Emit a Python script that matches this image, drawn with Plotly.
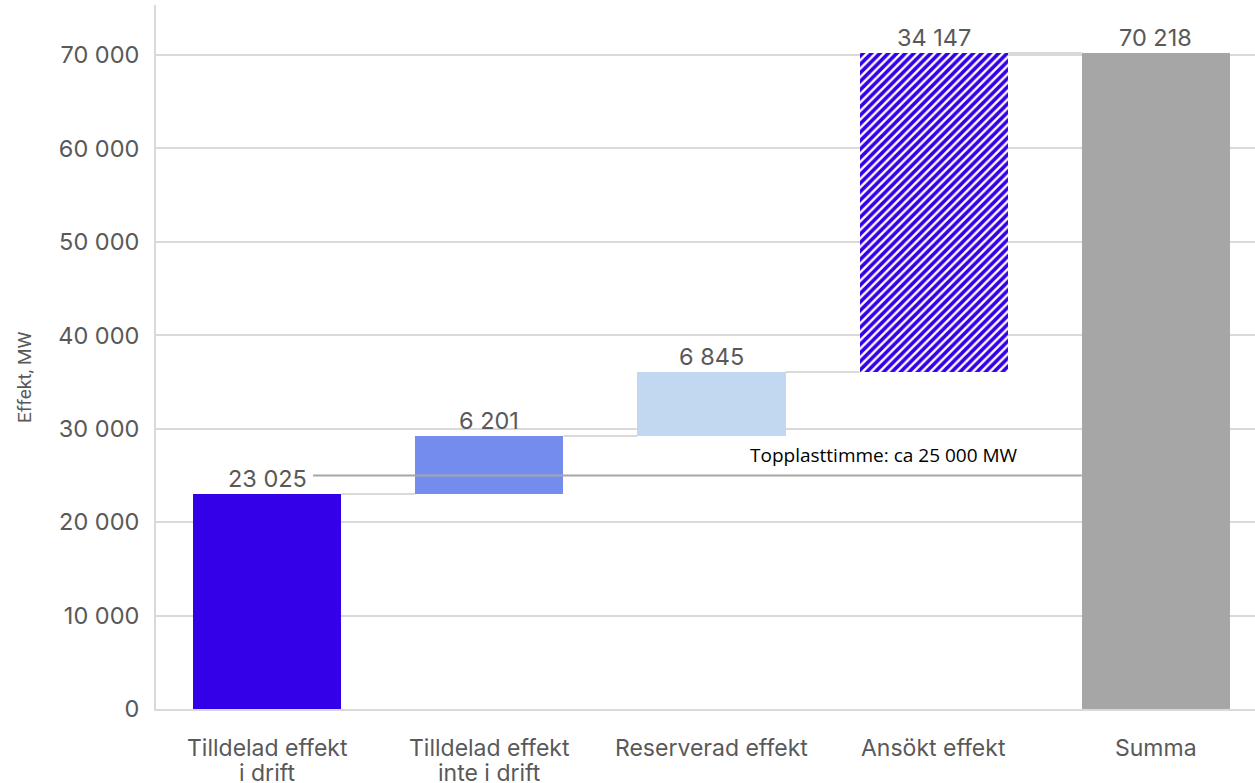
import plotly.graph_objects as go

categories = ["Tilldelad effekt<br>i drift", "Tilldelad effekt<br>inte i drift", "Reserverad effekt", "Ansökt effekt", "Summa"]
values = [23025, 6201, 6845, 34147]
total = 70218
value_labels = ["23 025", "6 201", "6 845", "34 147", "70 218"]
colors = ["#3300E8", "#738CEE", "#C2D8F0", "#3300E8", "#A6A6A6"]
peak_value = 25000
peak_label = "Topplasttimme: ca 25 000 MW"
y_title = "Effekt, MW"
y_ticks = [0, 10000, 20000, 30000, 40000, 50000, 60000, 70000]
y_ticktext = ["0", "10 000", "20 000", "30 000", "40 000", "50 000", "60 000", "70 000"]

bases = []
acc = 0
for v in values:
    bases.append(acc)
    acc += v
heights = values + [total]
bases_all = bases + [0]
tops = [b + h for b, h in zip(bases_all, heights)]
xs = list(range(len(categories)))
bw = 0.667
FONT = "Inter"
GREY = "#595959"

fig = go.Figure()
for i in xs:
    marker = dict(color=colors[i], line=dict(width=0))
    if i == 3:
        marker = dict(color="white", line=dict(width=0),
                      pattern=dict(shape="/", fgcolor=colors[i], bgcolor="white", size=6,
                                   solidity=0.6, fgopacity=1, fillmode="replace"))
    fig.add_trace(go.Bar(x=[i], y=[heights[i]], base=[bases_all[i]], width=bw,
                         marker=marker, showlegend=False, hoverinfo="skip"))

shapes = []
for i in range(len(categories) - 1):
    shapes.append(dict(type="line", xref="x", yref="y", x0=i + bw / 2, x1=i + 1 - bw / 2,
                       y0=tops[i], y1=tops[i], line=dict(color="#D9D9D9", width=2), layer="below"))
shapes.append(dict(type="line", xref="x", yref="y", x0=0.207, x1=4 - bw / 2,
                   y0=peak_value, y1=peak_value, line=dict(color="#A6A6A6", width=2), layer="above"))

annotations = []
for i in xs:
    annotations.append(dict(x=i, y=tops[i], text=value_labels[i], showarrow=False, xref="x", yref="y",
                            yanchor="bottom", yshift=-1, font=dict(family=FONT, size=23.5, color=GREY)))
    for j, line in enumerate(categories[i].split("<br>")):
        annotations.append(dict(x=i, y=0, text=line, showarrow=False, xref="x", yref="paper",
                                yanchor="middle", yshift=-39 - 25 * j,
                                font=dict(family=FONT, size=23, color=GREY)))
annotations.append(dict(x=2.164, y=peak_value, text=peak_label, showarrow=False, xref="x", yref="y",
                        xanchor="left", yanchor="bottom", yshift=5,
                        font=dict(family="Open Sans", size=19, color="#000000")))
annotations.append(dict(x=0, y=0.4716, xref="paper", yref="paper", xshift=-131, text=y_title,
                        textangle=-90, showarrow=False, xanchor="center", yanchor="middle",
                        font=dict(family="Roboto", size=19, color=GREY)))

fig.update_layout(
    width=1255, height=783,
    margin=dict(l=156, r=0, t=5, b=74),
    plot_bgcolor="white", paper_bgcolor="white",
    bargap=0,
    shapes=shapes, annotations=annotations,
    xaxis=dict(range=[-0.5, 4.446], tickvals=xs, showticklabels=False, automargin=False,
               showgrid=False, showline=True, linecolor="#D9D9D9", linewidth=2,
               ticks="", zeroline=False),
    yaxis=dict(range=[0, 75350], tickvals=y_ticks, ticktext=y_ticktext, automargin=False,
               tickfont=dict(family=FONT, size=23.5, color=GREY),
               showgrid=True, gridcolor="#D9D9D9", gridwidth=2,
               showline=True, linecolor="#D9D9D9", linewidth=2,
               ticks="outside", ticklen=10, tickcolor="rgba(0,0,0,0)", zeroline=False),
)

fig.write_html("out.html", config={"displayModeBar": False},
               post_script="document.body.style.margin='0px';document.body.style.overflow='hidden';")
